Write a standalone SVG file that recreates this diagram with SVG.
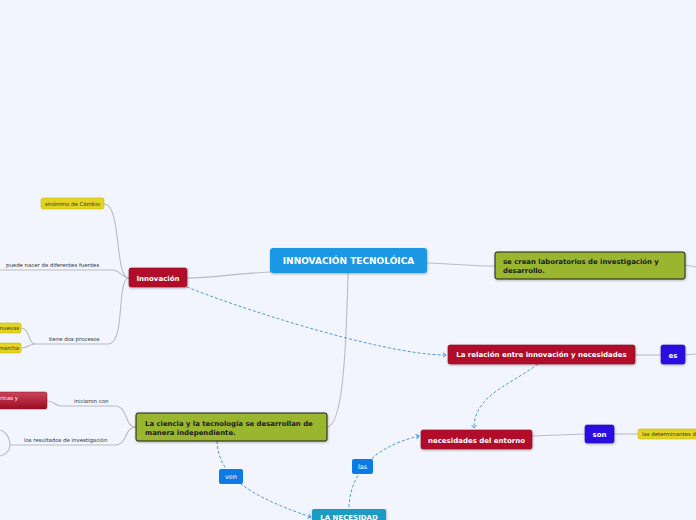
<svg xmlns="http://www.w3.org/2000/svg" width="696" height="520" viewBox="0 0 696 520">
<defs>
<style>
.c{fill:none;stroke:#b9bcc3;stroke-width:1.1}
.d{fill:none;stroke:#4d9be6;stroke-width:1;stroke-dasharray:3,2;marker-end:url(#ah)}
.t{font-family:"DejaVu Sans",Verdana,sans-serif}
.b{font-weight:bold}
.w{fill:#ffffff}
.k{fill:#1a1a1a}
.s{font-size:5.4px;fill:#333}
.red{fill:#b10e2b;stroke:#8e0a20;stroke-width:0.6}
.yel{fill:#e2d420;stroke:#c8b912;stroke-width:0.6}
.grn{fill:#9ab62f;stroke:#1e1e1e;stroke-width:1}
.vio{fill:#2a0fe0;stroke:#1d0aa8;stroke-width:0.6}
.lbl{fill:#0c7be6}
</style>
<marker id="ah" markerWidth="6" markerHeight="6" refX="4" refY="3" orient="auto" markerUnits="userSpaceOnUse">
<path d="M1,0.5 L4,3 L1,5.5" fill="none" stroke="#4d9be6" stroke-width="1"/>
</marker>
<filter id="sh" x="-10%" y="-20%" width="120%" height="150%">
<feDropShadow dx="0.5" dy="1" stdDeviation="0.8" flood-color="#000" flood-opacity="0.3"/>
</filter>
<linearGradient id="rg" x1="0" y1="0" x2="0" y2="1">
<stop offset="0" stop-color="#c9455b"/>
<stop offset="1" stop-color="#9c0d24"/>
</linearGradient>
</defs>
<rect x="0" y="0" width="696" height="520" fill="#f2f5fd"/>

<g id="connectors">
<path class="c" d="M270,272 C232,274 212,278 187,278"/>
<path class="c" d="M129,278 C114,278 122,204 104,204"/>
<path class="c" d="M129,278 C121,278 121,270 112,270 L0,270"/>
<path class="c" d="M129,278 C116,278 126,344 108,344 L35,344"/>
<path class="c" d="M35,344 C28,344 30,328 21,328"/>
<path class="c" d="M35,344 C28,344 30,348 21,348"/>
<path class="c" d="M348,273 C346,360 342,426 327,427"/>
<path class="c" d="M136,427 C124,427 128,406 115,406 L62,406 C53,406 56,401 47,401"/>
<path class="c" d="M136,427 C124,427 128,445 115,445 L10,445"/>
<path class="c" d="M10,445 C10,437 5,431 0,430"/>
<path class="c" d="M10,445 C10,451 5,455 0,456"/>
<path class="c" d="M427,263 C460,264 470,266 495,266"/>
<path class="c" d="M685,265 L696,267"/>
<path class="c" d="M635,355 L661,355"/>
<path class="c" d="M685,355 L696,354"/>
<path class="c" d="M532,436 L585,434"/>
<path class="c" d="M614,434 L638,434"/>
<path class="d" d="M187,287 C225,303 380,355 446,355"/>
<path class="d" d="M538,364 C512,384 474,395 474,428"/>
<path class="d" d="M349,507 C350,478 368,448 419,436"/>
<path class="d" d="M217,441 C218,472 242,494 311,517"/>
</g>

<g id="central">
<rect x="270" y="248" width="157" height="25" rx="3" fill="#1b97e4" filter="url(#sh)"/>
<text class="t b w" x="348.5" y="264" font-size="9" text-anchor="middle">INNOVACIÓN TECNOLÓICA</text>
</g>

<g id="innovacion">
<rect class="red" x="129" y="268" width="58" height="19" rx="2" filter="url(#sh)"/>
<text class="t b w" x="158" y="280.5" font-size="7" text-anchor="middle">Innovación</text>
</g>

<g id="sinonimo">
<rect class="yel" x="41" y="198" width="63" height="11" rx="2"/>
<text class="t s" x="72.5" y="205.8" text-anchor="middle">sinónimo de Cámbio</text>
</g>

<g id="puede">
<text class="t s" x="6" y="267">puede nacer de diferentes fuentes</text>
</g>

<g id="tiene">
<text class="t s" x="49" y="341">tiene dos procesos</text>
</g>

<g id="nuevas">
<rect class="yel" x="-10" y="323" width="31" height="10" rx="2"/>
<text class="t s" x="19" y="330" text-anchor="end">nuevas</text>
</g>

<g id="marcha">
<rect class="yel" x="-10" y="343" width="31" height="10" rx="2"/>
<text class="t s" x="19" y="350" text-anchor="end">marcha</text>
</g>

<g id="ciencia">
<rect class="grn" x="136" y="413" width="191" height="28" rx="2" filter="url(#sh)"/>
<text class="t b k" x="145" y="426" font-size="6.9">La ciencia y la tecnología se desarrollan de</text>
<text class="t b k" x="145" y="434.5" font-size="6.9">manera independiente.</text>
</g>

<g id="iniciaron">
<text class="t s" x="74" y="403">iniciaron con</text>
</g>

<g id="tecnicas">
<rect x="-10" y="392" width="57" height="17" rx="2" fill="url(#rg)" stroke="#8e0a20" stroke-width="0.5"/>
<text class="t w" x="18" y="399.5" font-size="5.4" text-anchor="end">ricas y</text>
</g>

<g id="resultados">
<text class="t s" x="24" y="442">los resultados de investigación</text>
</g>

<g id="laboratorios">
<rect class="grn" x="495" y="252" width="190" height="27" rx="2" filter="url(#sh)"/>
<text class="t b k" x="503" y="264" font-size="6.9">se crean laboratorios de investigación y</text>
<text class="t b k" x="503" y="272.5" font-size="6.9">desarrollo.</text>
</g>

<g id="relacion">
<rect class="red" x="448" y="345" width="187" height="19" rx="2" filter="url(#sh)"/>
<text class="t b w" x="541.5" y="357.3" font-size="7" text-anchor="middle">La relación entre innovación  y necesidades</text>
</g>

<g id="es">
<rect class="vio" x="661" y="345" width="24" height="19" rx="2" filter="url(#sh)"/>
<text class="t b w" x="673" y="357.5" font-size="7" text-anchor="middle">es</text>
</g>

<g id="necesidades">
<rect class="red" x="421" y="430" width="111" height="19" rx="2" filter="url(#sh)"/>
<text class="t b w" x="476.5" y="442.5" font-size="7" text-anchor="middle">necesidades del entorno</text>
</g>

<g id="son">
<rect class="vio" x="585" y="425" width="29" height="18" rx="2" filter="url(#sh)"/>
<text class="t b w" x="599.5" y="437" font-size="7" text-anchor="middle">son</text>
</g>

<g id="determinantes">
<rect class="yel" x="638" y="429" width="68" height="10" rx="2"/>
<text class="t s" x="642" y="436">las determinantes d</text>
</g>

<g id="las">
<rect class="lbl" x="352" y="459" width="21" height="15" rx="2"/>
<text class="t w" x="362.5" y="469" font-size="6.5" text-anchor="middle">las</text>
</g>

<g id="ven">
<rect class="lbl" x="219" y="469" width="24" height="15" rx="2"/>
<text class="t w" x="231" y="479" font-size="6.5" text-anchor="middle">ven</text>
</g>

<g id="necesidad">
<rect x="312" y="509" width="74" height="20" rx="2" fill="#1a9bc2" filter="url(#sh)"/>
<text class="t b w" x="349" y="520" font-size="7" text-anchor="middle">LA NECESIDAD</text>
</g>
</svg>
